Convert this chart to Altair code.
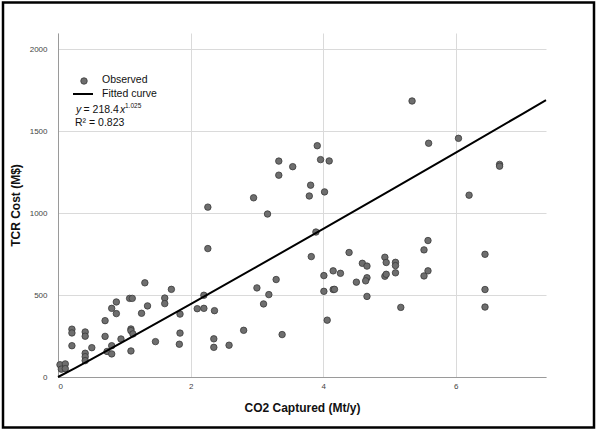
import altair as alt
import pandas as pd

# Observed points: CO2 captured (Mt/y) and TCR cost (M$)
co2 = [0.03, 0.11, 0.05, 0.11, 0.21, 0.21, 0.21, 0.41, 0.41, 0.41, 0.41, 0.41,
       0.51, 0.71, 0.71, 0.74, 0.81, 0.81, 0.81, 0.88, 0.88, 0.95, 1.08, 1.12,
       1.10, 1.10, 1.13, 1.10, 1.26, 1.31, 1.35, 1.47, 1.61, 1.61, 1.71, 1.84,
       1.84, 1.83, 2.10, 2.20, 2.20, 2.26, 2.26, 2.36, 2.35, 2.35, 2.58, 2.80,
       2.95, 3.00, 3.16, 3.18, 3.10, 3.29, 3.38, 3.33, 3.33, 3.54, 3.81, 3.79,
       4.02, 3.91, 3.96, 4.09, 3.89, 3.82, 4.39, 4.01, 4.15, 4.26, 4.59, 4.66,
       4.01, 4.15, 4.17, 4.50, 4.66, 4.64, 4.66, 4.93, 4.95, 5.09, 5.09, 5.09,
       4.93, 4.95, 5.17, 4.06, 5.58, 5.52, 5.58, 5.52, 6.44, 6.44, 6.44, 5.34,
       5.59, 6.04, 6.66, 6.66, 6.20]
cost = [75, 80, 48, 51, 292, 269, 191, 275, 249, 145, 124, 100,
        179, 344, 248, 156, 191, 141, 419, 458, 387, 232, 480, 480,
        293, 283, 263, 159, 389, 575, 434, 216, 482, 448, 535, 384,
        268, 200, 417, 419, 499, 1037, 784, 405, 233, 181, 194, 285,
        1094, 544, 995, 503, 446, 595, 259, 1318, 1232, 1284, 1171, 1105,
        1130, 1412, 1327, 1319, 885, 735, 760, 619, 648, 633, 694, 677,
        523, 534, 535, 579, 606, 587, 492, 731, 699, 700, 680, 636,
        615, 627, 425, 347, 833, 776, 648, 617, 749, 534, 427, 1685,
        1427, 1457, 1298, 1287, 1110]

# Fitted curve shown on the chart: y = 218.4 x^1.025
FIT_A = 218.4
FIT_B = 1.025
fit_x = [0, 0.25, 0.5, 1, 2, 3, 4, 5, 6, 7, 7.36]

x_ticks = [0, 2, 4, 6]
y_ticks = [0, 500, 1000, 1500, 2000]

FONT = "Liberation Sans"

obs = pd.DataFrame({"co2": co2, "cost": cost})
fit = pd.DataFrame({"co2": fit_x})

xscale = alt.Scale(domain=[0, 7.36], nice=False, zero=True)
yscale = alt.Scale(domain=[0, 2100], nice=False)

xaxis = alt.Axis(values=x_ticks, format="d", title="CO2 Captured (Mt/y)", grid=True, ticks=False,
                 labelFontSize=8, labelColor="#444444", labelPadding=5, labelFont=FONT,
                 domainColor="#9a9a9a", gridColor="#dadada",
                 titleFont=FONT, titleFontSize=12, titleFontWeight="bold",
                 titleColor="#111111", titlePadding=12)
yaxis = alt.Axis(values=y_ticks, format="d", title="TCR Cost (M$)", grid=True, ticks=False,
                 labelFontSize=8, labelColor="#444444", labelPadding=11, labelFont=FONT,
                 domainColor="#9a9a9a", gridColor="#dadada",
                 titleFont=FONT, titleFontSize=12, titleFontWeight="bold",
                 titleColor="#111111", titlePadding=7)

points = alt.Chart(obs).mark_point(
    filled=True, shape="circle", size=42, color="#6e6e6e",
    stroke="#3a3a3a", strokeWidth=0.8, opacity=1
).encode(
    x=alt.X("co2:Q", scale=xscale, axis=xaxis),
    y=alt.Y("cost:Q", scale=yscale, axis=yaxis),
)

curve = alt.Chart(fit).transform_calculate(
    cost=f"{FIT_A} * pow(datum.co2, {FIT_B})"
).mark_line(color="black", strokeWidth=2).encode(
    x=alt.X("co2:Q", scale=xscale),
    y=alt.Y("cost:Q", scale=yscale),
)

one = pd.DataFrame({"a": [0]})

leg_pt = alt.Chart(one).mark_point(
    filled=True, shape="circle", size=42, color="#6e6e6e",
    stroke="#3a3a3a", strokeWidth=0.8, opacity=1
).encode(x=alt.value(26), y=alt.value(48))

leg_line = alt.Chart(one).mark_rule(color="black", strokeWidth=2).encode(
    x=alt.value(15), x2=alt.value(35), y=alt.value(61))

def txt(s, x, y, size=10.5, style="normal", baseline="middle"):
    return alt.Chart(one).mark_text(
        text=s, align="left", baseline=baseline, font=FONT, fontSize=size,
        fontStyle=style, color="#111111"
    ).encode(x=alt.value(x), y=alt.value(y))

legend = [
    txt("Observed", 44, 47),
    txt("Fitted curve", 44, 60.5),
    txt("y", 18, 80, style="italic", baseline="alphabetic"),
    txt("= 218.4", 25.5, 80, baseline="alphabetic"),
    txt("x", 62, 80, style="italic", baseline="alphabetic"),
    txt("1.025", 67, 75, size=6.5, baseline="alphabetic"),
    txt("R² = 0.823", 17, 93, baseline="alphabetic"),
]

frame = alt.Chart(one).mark_rect(
    fillOpacity=0, stroke="black", strokeWidth=2.5
).encode(x=alt.value(-55), x2=alt.value(536), y=alt.value(-30.5), y2=alt.value(394.5))

chart = alt.layer(points, curve, leg_pt, leg_line, *legend, frame).properties(
    width=488, height=344,
    autosize=alt.AutoSizeParams(type="none"),
    padding={"left": 58, "top": 33, "right": 51, "bottom": 53},
    background="white",
).configure_view(strokeWidth=0)

chart.save("out.html", embed_options={"renderer": "svg", "actions": False})
